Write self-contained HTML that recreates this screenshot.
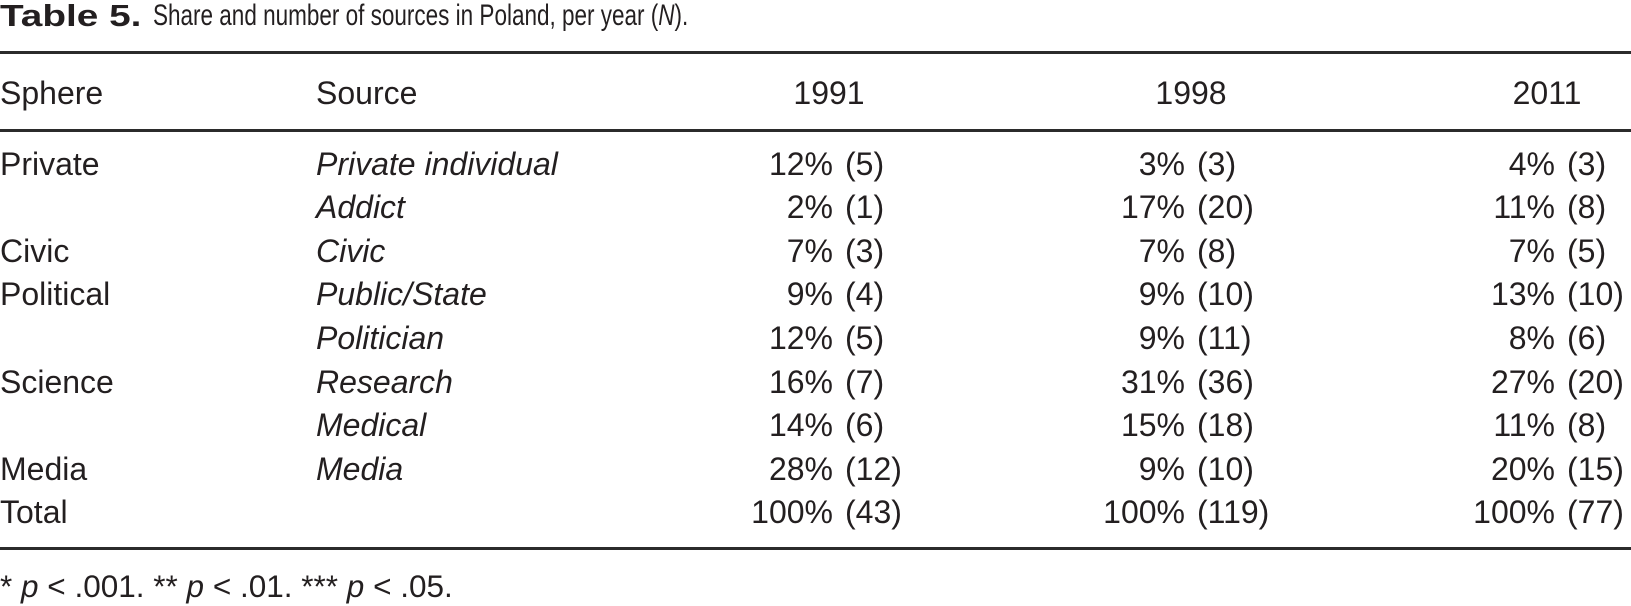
<!DOCTYPE html>
<html>
<head>
<meta charset="utf-8">
<style>
  html,body{margin:0;padding:0;background:#fff;}
  body{width:1631px;height:606px;position:relative;overflow:hidden;
       font-family:"Liberation Sans","DejaVu Sans",sans-serif;color:#231f20;}
  .t{position:absolute;white-space:nowrap;font-size:32px;line-height:1;}
  .i{font-style:italic;}
  .rule{position:absolute;left:0;width:1631px;height:2.5px;background:#2b2b2b;}
  .r{position:absolute;white-space:nowrap;font-size:32px;line-height:1;text-align:right;}
  .c{position:absolute;white-space:nowrap;font-size:32px;line-height:1;text-align:center;width:200px;}
</style>
</head>
<body>
<!-- title -->
<div class="t" style="left:0;top:0px;font-size:31px;font-weight:bold;transform:scaleX(1.25);transform-origin:0 0;">Table 5.</div>
<div class="t" style="left:153px;top:1px;font-size:30px;transform:scaleX(0.75);transform-origin:0 0;">Share and number of sources in Poland, per year (<i>N</i>).</div>

<div class="rule" style="top:51px;"></div>

<!-- header -->
<div class="t" style="left:0;top:77px;">Sphere</div>
<div class="t" style="left:316px;top:77px;">Source</div>
<div class="c" style="left:729px;top:77px;">1991</div>
<div class="c" style="left:1091px;top:77px;">1998</div>
<div class="c" style="left:1447px;top:77px;">2011</div>

<div class="rule" style="top:129px;"></div>

<!-- Row 0 -->
<div class="t" style="left:0;top:147.6px;">Private</div>
<div class="t i" style="left:316px;top:147.6px;">Private individual</div>
<div class="r" style="right:798px;top:147.6px;">12%</div><div class="t" style="left:845px;top:147.6px;">(5)</div>
<div class="r" style="right:446px;top:147.6px;">3%</div><div class="t" style="left:1197px;top:147.6px;">(3)</div>
<div class="r" style="right:76px;top:147.6px;">4%</div><div class="t" style="left:1567px;top:147.6px;">(3)</div>

<!-- Row 1 -->
<div class="t i" style="left:316px;top:191.2px;">Addict</div>
<div class="r" style="right:798px;top:191.2px;">2%</div><div class="t" style="left:845px;top:191.2px;">(1)</div>
<div class="r" style="right:446px;top:191.2px;">17%</div><div class="t" style="left:1197px;top:191.2px;">(20)</div>
<div class="r" style="right:76px;top:191.2px;">11%</div><div class="t" style="left:1567px;top:191.2px;">(8)</div>

<!-- Row 2 -->
<div class="t" style="left:0;top:234.8px;">Civic</div>
<div class="t i" style="left:316px;top:234.8px;">Civic</div>
<div class="r" style="right:798px;top:234.8px;">7%</div><div class="t" style="left:845px;top:234.8px;">(3)</div>
<div class="r" style="right:446px;top:234.8px;">7%</div><div class="t" style="left:1197px;top:234.8px;">(8)</div>
<div class="r" style="right:76px;top:234.8px;">7%</div><div class="t" style="left:1567px;top:234.8px;">(5)</div>

<!-- Row 3 -->
<div class="t" style="left:0;top:278.4px;">Political</div>
<div class="t i" style="left:316px;top:278.4px;">Public/State</div>
<div class="r" style="right:798px;top:278.4px;">9%</div><div class="t" style="left:845px;top:278.4px;">(4)</div>
<div class="r" style="right:446px;top:278.4px;">9%</div><div class="t" style="left:1197px;top:278.4px;">(10)</div>
<div class="r" style="right:76px;top:278.4px;">13%</div><div class="t" style="left:1567px;top:278.4px;">(10)</div>

<!-- Row 4 -->
<div class="t i" style="left:316px;top:322px;">Politician</div>
<div class="r" style="right:798px;top:322px;">12%</div><div class="t" style="left:845px;top:322px;">(5)</div>
<div class="r" style="right:446px;top:322px;">9%</div><div class="t" style="left:1197px;top:322px;">(11)</div>
<div class="r" style="right:76px;top:322px;">8%</div><div class="t" style="left:1567px;top:322px;">(6)</div>

<!-- Row 5 -->
<div class="t" style="left:0;top:365.6px;">Science</div>
<div class="t i" style="left:316px;top:365.6px;">Research</div>
<div class="r" style="right:798px;top:365.6px;">16%</div><div class="t" style="left:845px;top:365.6px;">(7)</div>
<div class="r" style="right:446px;top:365.6px;">31%</div><div class="t" style="left:1197px;top:365.6px;">(36)</div>
<div class="r" style="right:76px;top:365.6px;">27%</div><div class="t" style="left:1567px;top:365.6px;">(20)</div>

<!-- Row 6 -->
<div class="t i" style="left:316px;top:409.2px;">Medical</div>
<div class="r" style="right:798px;top:409.2px;">14%</div><div class="t" style="left:845px;top:409.2px;">(6)</div>
<div class="r" style="right:446px;top:409.2px;">15%</div><div class="t" style="left:1197px;top:409.2px;">(18)</div>
<div class="r" style="right:76px;top:409.2px;">11%</div><div class="t" style="left:1567px;top:409.2px;">(8)</div>

<!-- Row 7 -->
<div class="t" style="left:0;top:452.8px;">Media</div>
<div class="t i" style="left:316px;top:452.8px;">Media</div>
<div class="r" style="right:798px;top:452.8px;">28%</div><div class="t" style="left:845px;top:452.8px;">(12)</div>
<div class="r" style="right:446px;top:452.8px;">9%</div><div class="t" style="left:1197px;top:452.8px;">(10)</div>
<div class="r" style="right:76px;top:452.8px;">20%</div><div class="t" style="left:1567px;top:452.8px;">(15)</div>

<!-- Row 8 -->
<div class="t" style="left:0;top:496.4px;">Total</div>
<div class="r" style="right:798px;top:496.4px;">100%</div><div class="t" style="left:845px;top:496.4px;">(43)</div>
<div class="r" style="right:446px;top:496.4px;">100%</div><div class="t" style="left:1197px;top:496.4px;">(119)</div>
<div class="r" style="right:76px;top:496.4px;">100%</div><div class="t" style="left:1567px;top:496.4px;">(77)</div>

<div class="rule" style="top:547px;"></div>

<!-- footnote -->
<div class="t" style="left:0;top:571px;font-size:31.5px;">* <i>p</i> &lt; .001. ** <i>p</i> &lt; .01. *** <i>p</i> &lt; .05.</div>
</body>
</html>
